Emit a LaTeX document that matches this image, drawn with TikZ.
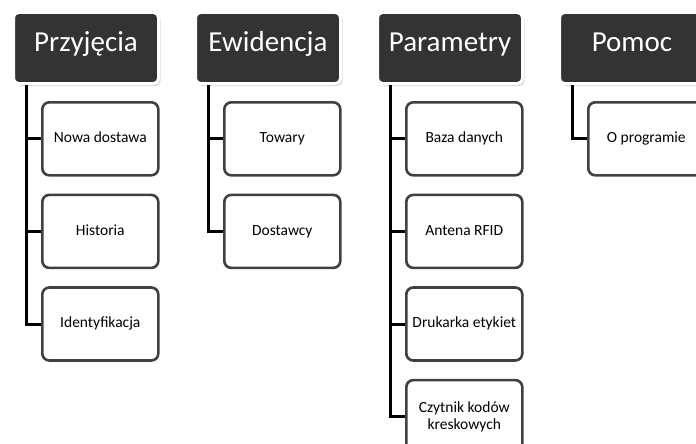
\documentclass[tikz,border=0pt]{standalone}
\usepackage{fontspec}
\setmainfont{Carlito}
\usepackage{tikz}
\usetikzlibrary{positioning, shadows}
\definecolor{menuDark}{HTML}{333333}
\definecolor{itemBorder}{HTML}{404040}
\tikzstyle{menu} = [rectangle, rounded corners=5pt, minimum width=145pt, minimum height=71pt, text centered, draw=white, line width=3pt, fill=menuDark, text=white, font=\fontsize{29}{33}\selectfont, text height=0.92em, text depth=0.2em, drop shadow={shadow xshift=2pt, shadow yshift=-2.5pt, opacity=0.3}]
\tikzstyle{item} = [rectangle, rounded corners=7pt, minimum width=116pt, minimum height=73pt, text centered, align=center, draw=itemBorder, line width=2.6pt, fill=white, font=\fontsize{15.5}{17}\selectfont, text height=1.0em, text depth=0.22em]
\tikzstyle{item2} = [item, text height={}, text depth={}]
\tikzstyle{link} = [line width=3pt, draw=black]

\begin{document}
\begin{tikzpicture}
\useasboundingbox (0,0) rectangle (696pt,-444pt);
\clip (0,0) rectangle (696pt,-444pt);

% menu bar
\node (prz) [menu] at (86pt,-48pt) {Przyjęcia};
\node (ewi) [menu, right=34pt of prz] {Ewidencja};
\node (par) [menu, right=34pt of ewi] {Parametry};
\node (pom) [menu, right=34pt of par] {Pomoc};

% submenu items
\node (prz1) [item, below right=16pt and 29pt of prz.south west] {Nowa dostawa};
\node (prz2) [item, below=17pt of prz1] {Historia};
\node (prz3) [item, below=17pt of prz2] {Identyfikacja};

\node (ewi1) [item, below right=16pt and 29pt of ewi.south west] {Towary};
\node (ewi2) [item, below=17pt of ewi1] {Dostawcy};

\node (par1) [item, below right=16pt and 29pt of par.south west] {Baza danych};
\node (par2) [item, below=17pt of par1] {Antena RFID};
\node (par3) [item, below=17pt of par2] {Drukarka etykiet};
\node (par4) [item2, below=17pt of par3] {Czytnik kodów\\kreskowych};

\node (pom1) [item, below right=16pt and 29pt of pom.south west] {O programie};

% connectors
\draw [link] ([xshift=14pt]prz.south west) |- (prz1.west);
\draw [link] ([xshift=14pt]prz.south west) |- (prz2.west);
\draw [link] ([xshift=14pt]prz.south west) |- (prz3.west);
\draw [link] ([xshift=14pt]ewi.south west) |- (ewi1.west);
\draw [link] ([xshift=14pt]ewi.south west) |- (ewi2.west);
\draw [link] ([xshift=14pt]par.south west) |- (par1.west);
\draw [link] ([xshift=14pt]par.south west) |- (par2.west);
\draw [link] ([xshift=14pt]par.south west) |- (par3.west);
\draw [link] ([xshift=14pt]par.south west) |- (par4.west);
\draw [link] ([xshift=14pt]pom.south west) |- (pom1.west);

\end{tikzpicture}
\end{document}
